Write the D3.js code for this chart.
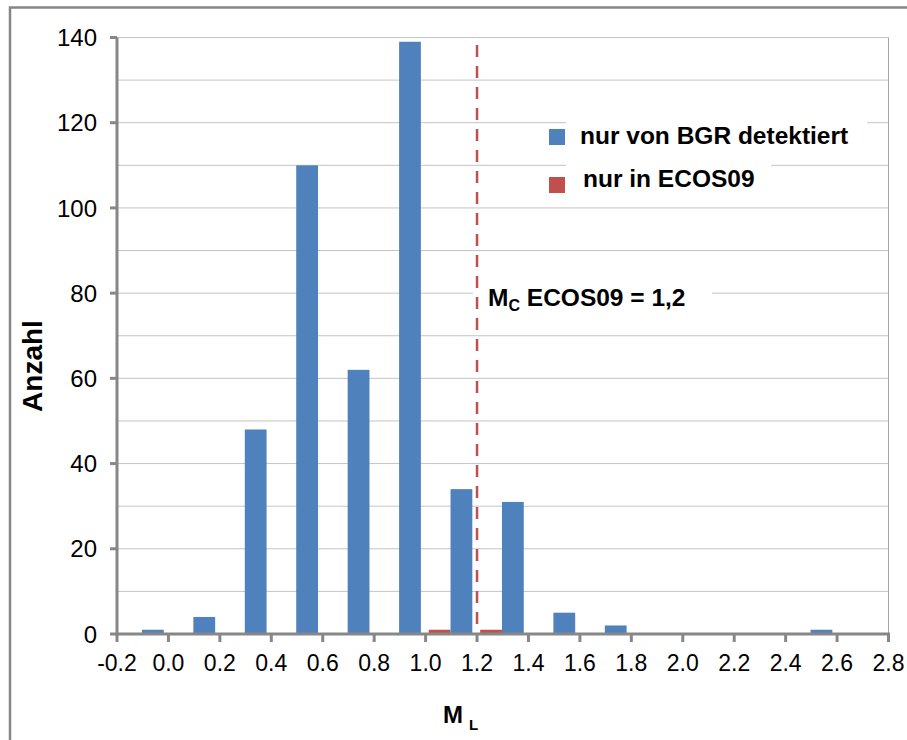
<!DOCTYPE html>
<meta charset="utf-8">

<!-- Load d3 -->
<script src="https://d3js.org/d3.v7.min.js"></script>

<style>
  body { margin: 0; background: #fff; }
  text { font-family: "Liberation Sans", Arial, sans-serif; }
</style>

<!-- Create a div where the graph will take place -->
<div id="chart"></div>

<script>
  // magnitude classes (lower edge of each 0.2 wide bin)
  var binStarts = [-0.2, 0.0, 0.2, 0.4, 0.6, 0.8, 1.0, 1.2, 1.4, 1.6, 1.8, 2.0, 2.2, 2.4, 2.6];
  // counts per bin
  var bgrCounts = [1, 4, 48, 110, 62, 139, 34, 31, 5, 2, 0, 0, 0, 1, 0];
  var ecosCounts = [0, 0, 0, 0, 0, 0, 1, 1, 0, 0, 0, 0, 0, 0, 0];
  // axis ticks
  var xTicks = [-0.2, 0.0, 0.2, 0.4, 0.6, 0.8, 1.0, 1.2, 1.4, 1.6, 1.8, 2.0, 2.2, 2.4, 2.6, 2.8];
  var yTicks = [0, 20, 40, 60, 80, 100, 120, 140];
  var yGrid = [10, 20, 30, 40, 50, 60, 70, 80, 90, 100, 110, 120, 130, 140];
  var mcValue = 1.2;

  var seriesNames = ["nur in ECOS09", "nur von BGR detektiert"];
  var colors = { "nur von BGR detektiert": "#4f81bd", "nur in ECOS09": "#c0504d" };

  var data = binStarts.map(function (b, i) {
    return { bin: b, values: [ecosCounts[i], bgrCounts[i]] };
  });

  var W = 907, H = 740;
  var svg = d3.select("#chart")
    .append("svg")
    .attr("width", W)
    .attr("height", H);

  // outer frame
  svg.append("rect")
    .attr("x", 10).attr("y", 7.5)
    .attr("width", W).attr("height", H)
    .attr("fill", "#fff")
    .attr("stroke", "#878787")
    .attr("stroke-width", 2.5);

  // scales
  var x = d3.scaleLinear().domain([-0.2, 2.8]).range([117, 888.5]);
  var y = d3.scaleLinear().domain([0, 140]).range([634, 37.5]);
  var binW = x(0.0) - x(-0.2);
  var xInner = d3.scaleBand()
    .domain(seriesNames)
    .range([0, binW])
    .paddingInner(0)
    .paddingOuter(0.18)
    .align(0.4);

  // gridlines
  svg.selectAll(".grid")
    .data(yGrid)
    .enter()
    .append("line")
    .attr("class", "grid")
    .attr("x1", x(-0.2)).attr("x2", x(2.8))
    .attr("y1", function (d) { return y(d); })
    .attr("y2", function (d) { return y(d); })
    .attr("stroke", "#c4c4c4")
    .attr("stroke-width", 1);

  // plot area right border
  svg.append("line")
    .attr("x1", x(2.8)).attr("x2", x(2.8))
    .attr("y1", y(140)).attr("y2", y(0))
    .attr("stroke", "#a6a6a6")
    .attr("stroke-width", 1);

  // bars
  var groups = svg.selectAll(".bin")
    .data(data)
    .enter()
    .append("g")
    .attr("transform", function (d) { return "translate(" + x(d.bin) + ",0)"; });

  groups.selectAll("rect")
    .data(function (d) { return d.values.map(function (v, i) { return { key: seriesNames[i], value: v }; }); })
    .enter()
    .filter(function (d) { return d.value > 0; })
    .append("rect")
    .attr("x", function (d) { return xInner(d.key); })
    .attr("width", xInner.bandwidth())
    .attr("y", function (d) { return y(d.value); })
    .attr("height", function (d) { return y(0) - y(d.value); })
    .attr("fill", function (d) { return colors[d.key]; });

  // legend background boxes (hide gridlines)
  svg.append("rect").attr("x", 566).attr("y", 100).attr("width", 301).attr("height", 60).attr("fill", "#fff");
  svg.append("rect").attr("x", 566).attr("y", 162).attr("width", 205).attr("height", 43).attr("fill", "#fff");

  // legend
  var legend = [
    { name: "nur von BGR detektiert", sx: 549, sy: 129, tx: 580, ty: 144 },
    { name: "nur in ECOS09", sx: 549, sy: 177, tx: 583, ty: 187 }
  ];
  legend.forEach(function (l) {
    svg.append("rect")
      .attr("x", l.sx).attr("y", l.sy)
      .attr("width", 16).attr("height", 16)
      .attr("fill", colors[l.name]);
    svg.append("text")
      .attr("x", l.tx).attr("y", l.ty)
      .style("font-size", "24.5px")
      .style("font-weight", "bold")
      .text(l.name);
  });

  // annotation background
  svg.append("rect").attr("x", 473).attr("y", 280).attr("width", 239).attr("height", 48).attr("fill", "#fff");

  // Mc line
  svg.append("line")
    .attr("x1", x(mcValue)).attr("x2", x(mcValue))
    .attr("y1", y(140)).attr("y2", y(0))
    .attr("stroke", "#c0504d")
    .attr("stroke-width", 2.5)
    .attr("stroke-dasharray", "12,9")
    .attr("stroke-dashoffset", 13.5);

  // annotation text
  var ann = svg.append("text")
    .attr("x", 488).attr("y", 306)
    .style("font-size", "24.5px")
    .style("font-weight", "bold");
  ann.append("tspan").text("M");
  ann.append("tspan").attr("dy", 5).style("font-size", "16px").text("C");
  ann.append("tspan").attr("dy", -5).text(" ECOS09 = 1,2");

  // Y axis
  var axisColor = "#878787";
  svg.append("line")
    .attr("x1", x(-0.2)).attr("x2", x(-0.2))
    .attr("y1", y(140)).attr("y2", y(0) + 1.5)
    .attr("stroke", axisColor).attr("stroke-width", 3);
  svg.selectAll(".ytick")
    .data(yTicks)
    .enter()
    .append("line")
    .attr("x1", x(-0.2) - 7).attr("x2", x(-0.2))
    .attr("y1", function (d) { return y(d); })
    .attr("y2", function (d) { return y(d); })
    .attr("stroke", axisColor).attr("stroke-width", 3);
  svg.selectAll(".ylabel")
    .data(yTicks)
    .enter()
    .append("text")
    .attr("x", 97)
    .attr("y", function (d) { return y(d); })
    .attr("dy", "0.36em")
    .attr("text-anchor", "end")
    .style("font-size", "24px")
    .text(function (d) { return d; });

  // X axis
  svg.append("line")
    .attr("x1", x(-0.2) - 1.5).attr("x2", x(2.8) + 1.5)
    .attr("y1", y(0)).attr("y2", y(0))
    .attr("stroke", axisColor).attr("stroke-width", 3);
  svg.selectAll(".xtick")
    .data(xTicks)
    .enter()
    .append("line")
    .attr("x1", function (d) { return x(d); })
    .attr("x2", function (d) { return x(d); })
    .attr("y1", y(0)).attr("y2", y(0) + 8)
    .attr("stroke", axisColor).attr("stroke-width", 3);
  svg.selectAll(".xlabel")
    .data(xTicks)
    .enter()
    .append("text")
    .attr("x", function (d) { return x(d); })
    .attr("y", 671)
    .attr("text-anchor", "middle")
    .style("font-size", "23px")
    .text(function (d) { return d3.format(".1f")(d).replace("\u2212", "-"); });

  // Y axis label
  svg.append("text")
    .attr("transform", "translate(42,366) rotate(-90)")
    .attr("text-anchor", "middle")
    .style("font-size", "28px")
    .style("font-weight", "bold")
    .text("Anzahl");

  // X axis label
  var xl = svg.append("text")
    .attr("x", 443).attr("y", 723)
    .style("font-size", "24px")
    .style("font-weight", "bold");
  xl.append("tspan").text("M");
  xl.append("tspan").attr("dx", 6).attr("dy", 7).style("font-size", "15px").text("L");
</script>
